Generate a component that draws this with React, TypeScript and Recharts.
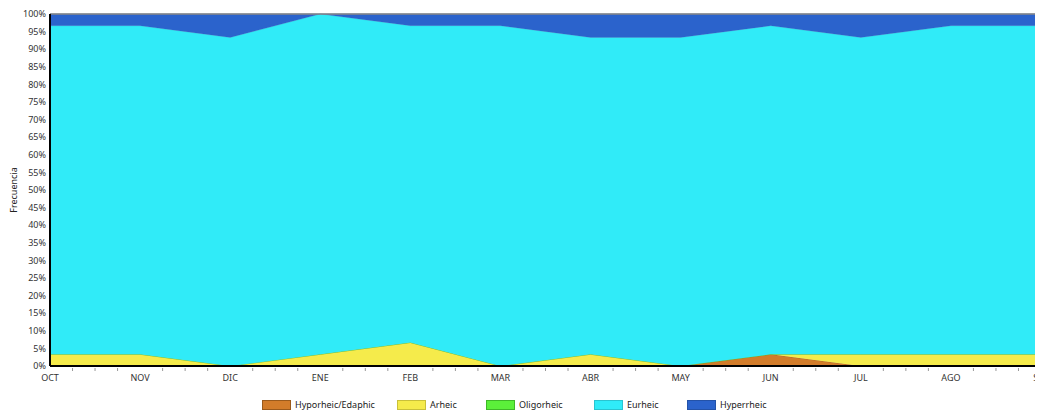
import React from 'react';
import { AreaChart, Area, XAxis, YAxis, CartesianGrid, ReferenceLine } from 'recharts';

const months = ['OCT', 'NOV', 'DIC', 'ENE', 'FEB', 'MAR', 'ABR', 'MAY', 'JUN', 'JUL', 'AGO', 'SEP'];
const hyporheic = [0, 0, 0, 0, 0, 0, 0, 0, 3.33, 0, 0, 0];
const arheic = [3.33, 3.33, 0, 3.33, 6.67, 0, 3.33, 0, 0, 3.33, 3.33, 3.33];
const oligorheic = [0, 0, 0, 0, 0, 0, 0, 0, 0, 0, 0, 0];
const eurheic = [93.33, 93.33, 93.33, 96.67, 90, 96.67, 90, 93.33, 93.33, 90, 93.33, 93.33];
const hyperrheic = [3.34, 3.34, 6.67, 0, 3.33, 3.33, 6.67, 6.67, 3.34, 6.67, 3.34, 3.34];
const yTicks = [0, 5, 10, 15, 20, 25, 30, 35, 40, 45, 50, 55, 60, 65, 70, 75, 80, 85, 90, 95, 100];

const seriesNames = ['Hyporheic/Edaphic', 'Arheic', 'Oligorheic', 'Eurheic', 'Hyperrheic'];
const seriesKeys = ['hypo', 'arheic', 'oligo', 'eurheic', 'hyper'];
const fills = ['#D27C2A', '#F5EB4B', '#5BF03A', '#30EBF8', '#2B63CC'];
const strokes = ['#9a5a1c', '#c9c03a', '#3fb828', '#2ac4d0', '#2452a8'];
const legendLefts = [254, 389, 478, 586, 679];

const data = months.map((m, i) => ({
  idx: i,
  month: m,
  hypo: hyporheic[i],
  arheic: arheic[i],
  oligo: oligorheic[i],
  eurheic: eurheic[i],
  hyper: hyperrheic[i],
}));

const xTicks: number[] = [];
for (let i = 0; i <= 44; i++) xTicks.push(i / 4);

const FONT = '"Noto Sans", sans-serif';

const XTick = (props: any) => {
  const { x, y, payload } = props;
  const v = payload.value;
  const isMajor = Math.abs(v - Math.round(v)) < 1e-6;
  return (
    <g>
      {!isMajor && <line x1={x} x2={x} y1={y - 6} y2={y - 3} stroke="#999" strokeWidth={1} />}
      {isMajor && (
        <text x={x} y={y + 7} textAnchor="middle" fontSize={9} fill="#333" fontFamily={FONT}>
          {months[Math.round(v)]}
        </text>
      )}
    </g>
  );
};

export default function App() {
  return (
    <div style={{ position: 'relative', width: 1035, height: 403, fontFamily: FONT }}>
      <AreaChart
        width={1035}
        height={403}
        data={data}
        margin={{ top: 6, right: 2, left: 0, bottom: 25 }}
      >
        <XAxis
          dataKey="idx"
          type="number"
          domain={[0, 11]}
          ticks={xTicks}
          interval={0}
          tick={<XTick />}
          tickLine={false}
          axisLine={{ stroke: '#000', strokeWidth: 2 }}
          height={20}
        />
        <YAxis
          type="number"
          domain={[0, 100]}
          ticks={yTicks}
          interval={0}
          tickFormatter={(v: number) => `${v}%`}
          tick={{ fontSize: 9, fill: '#333', fontFamily: FONT, dx: 4 }}
          tickLine={false}
          axisLine={{ stroke: '#000', strokeWidth: 2 }}
          width={42}
          label={{
            value: 'Frecuencia',
            angle: -90,
            position: 'insideLeft',
            offset: 6,
            style: { fontSize: 9, fill: '#222', fontFamily: FONT, textAnchor: 'middle' },
          }}
        />
        {seriesKeys.map((k, i) => (
          <Area
            key={k}
            type="linear"
            dataKey={k}
            name={seriesNames[i]}
            stackId="1"
            fill={fills[i]}
            fillOpacity={1}
            stroke={strokes[i]}
            strokeWidth={0.6}
            isAnimationActive={false}
          />
        ))}
        <CartesianGrid stroke="rgba(0,0,0,0.06)" strokeWidth={1} verticalValues={[0,1,2,3,4,5,6,7,8,9,10,11]} horizontalValues={yTicks} />
        <ReferenceLine y={100} stroke="#8a8a8a" strokeWidth={1.5} />
        <ReferenceLine x={11} stroke="#8a8a8a" strokeWidth={1.5} />
      </AreaChart>
      {seriesNames.map((n, i) => (
        <div
          key={n}
          style={{
            position: 'absolute',
            left: legendLefts[i],
            top: 391,
            display: 'flex',
            alignItems: 'center',
            fontSize: 9,
            lineHeight: '11px',
            color: '#222',
            whiteSpace: 'nowrap',
          }}
        >
          <div style={{ width: 27, height: 8, background: fills[i], border: `1px solid ${strokes[i]}`, marginRight: 4 }} />
          <span>{n}</span>
        </div>
      ))}
    </div>
  );
}
